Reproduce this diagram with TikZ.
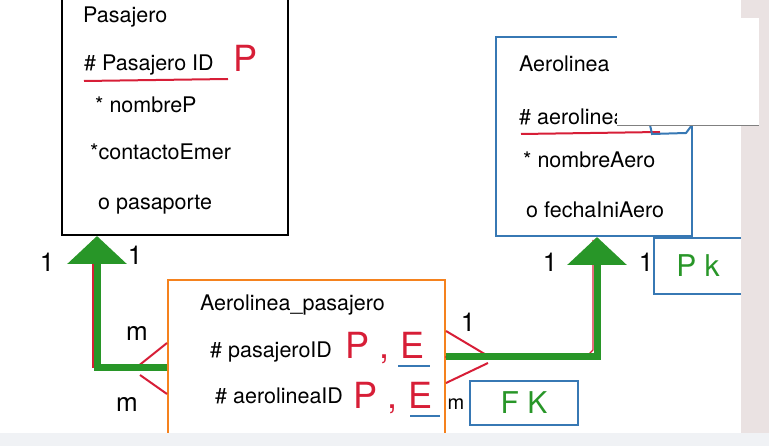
\documentclass[tikz,border=0pt]{standalone}
\usepackage{fontspec}
\setmainfont{TeX Gyre Heros}
\usetikzlibrary{arrows.meta}
\definecolor{penblue}{RGB}{55,120,180}
\definecolor{pengreen}{RGB}{40,150,40}
\definecolor{penred}{RGB}{215,30,55}
\definecolor{penorange}{RGB}{245,130,30}
\definecolor{sidegray}{RGB}{234,226,226}
\definecolor{bargray}{RGB}{240,242,245}

\begin{document}
\begin{tikzpicture}[x=1pt,y=-1pt,>=latex,
  entity/.style={draw,line width=2pt,inner sep=0pt},
  attr/.style={anchor=west,inner sep=0pt,font=\fontsize{21.5}{25}\selectfont},
  hand/.style={inner sep=0pt,font=\fontsize{26}{30}\selectfont},
  penmark/.style={inner sep=0pt,text=penred,font=\fontsize{36}{40}\selectfont},
  link/.style={draw=pengreen,line width=7pt,
    -{Triangle[width=58pt,length=28pt]}},
  keybox/.style={draw=penblue,line width=2pt,inner sep=0pt,text=pengreen,
    font=\fontsize{30}{34}\selectfont}]
  \useasboundingbox (0,0) rectangle (769,446);
  \clip (0,0) rectangle (769,446);

  \node[entity,minimum width=226pt,minimum height=250pt] (pasajero) at (175,110) {};
  \node[entity,draw=penblue,minimum width=196pt,minimum height=199pt] (aerolinea) at (594,136.5) {};
  \node[entity,draw=penorange,minimum width=277pt,minimum height=176pt] (ap) at (306.5,368) {};

  \node[attr] (pname) at (83,17)  {Pasajero};
  \node[attr] (pid)   at (84,65)  {\# Pasajero ID};
  \node[attr] (pnom)  at (95,105) {* nombreP};
  \node[attr] (pcon)  at (90,152) {*contactoEmer};
  \node[attr] (ppas)  at (98,205) {o pasaporte};
  \node[penmark] (pP) at (246,58) {P};
  \draw[penred,line width=2pt] (84,81) -- (228,79);

  \node[attr] (aname) at (519,64)  {Aerolinea};
  \node[attr] (aid)   at (519,117) {\# aerolineaID};
  \node[attr] (anom)  at (523,160) {* nombreAero};
  \node[attr] (afec)  at (526,210) {o fechaIniAero};
  \draw[penred,line width=2pt] (521,134) -- (660,132);
  \draw[penblue,line width=2pt] (650,125) -- (652,134) -- (686,133) -- (692,125);

  \node[attr] (apname) at (200,305) {Aerolinea\_pasajero};
  \node[attr] (appas)  at (210,352) {\# pasajeroID};
  \node[attr] (apaer)  at (215,396) {\# aerolineaID};
  \node[penmark] (pe1) at (385,348) {P , E};
  \node[penmark] (pe2) at (393,398) {P , E};
  \draw[penblue,line width=2pt] (398,366) -- (430,366);
  \draw[penblue,line width=2pt] (410,416) -- (440,416);

  \draw[penred,line width=1.2pt] (93,240) -- (93,368);
  \draw[penred,line width=1.2pt] (593,240) -- (593,350) -- (586,357) -- (445,357);
  \draw[penred,line width=2pt] ([yshift=25pt]ap.west) -- ([xshift=-30pt,yshift=1pt]ap.west);
  \draw[penred,line width=2pt] ([xshift=-27pt,yshift=-7pt]ap.west) -- ([yshift=-26pt]ap.west);
  \draw[penred,line width=2pt] ([yshift=37pt]ap.east) -- ([xshift=42pt,yshift=12pt]ap.east);
  \draw[penred,line width=2pt] ([xshift=42pt,yshift=5pt]ap.east) -- ([yshift=-15pt]ap.east);

  \draw[link] (ap.west) -| ([xshift=-78pt]pasajero.south);
  \draw[link] ([yshift=11pt]ap.east) -| ([xshift=3pt]aerolinea.south);

  \node[hand] (c1) at (47,262)  {1};
  \node[hand] (c2) at (135,255) {1};
  \node[hand] (c3) at (137,333) {m};
  \node[hand] (c4) at (127,404) {m};
  \node[hand] (c5) at (468,322) {1};
  \node[hand,font=\fontsize{20}{24}\selectfont] (c6) at (456,404) {m};
  \node[hand] (c7) at (550,262) {1};
  \node[hand] (c8) at (646,262) {1};

  \node[keybox,minimum width=88pt,minimum height=56pt] (pk) at (698,266) {P k};
  \node[keybox,minimum width=108pt,minimum height=44pt] (fk) at (524,403) {F K};

  \fill[white] (617,18) rectangle (759,125);
  \draw[gray,line width=0.8pt] (617,125) -- (759,125);
  \fill[sidegray] (741,0) rectangle (769,446);
  \fill[white] (741,18) rectangle (759,125);
  \draw[gray,line width=0.8pt] (741,125) -- (759,125);
  \fill[bargray] (0,433) rectangle (769,446);
\end{tikzpicture}
\end{document}
